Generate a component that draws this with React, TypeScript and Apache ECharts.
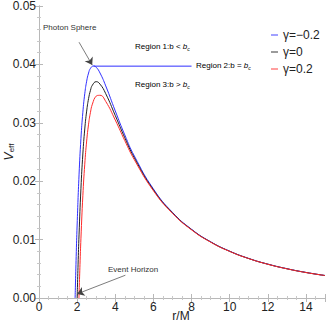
import React, { useEffect, useRef } from "react";
import * as echarts from "echarts";

// r/M values and effective potentials
const blueR = [1.894, 1.95, 2.0, 2.1, 2.2, 2.3, 2.4, 2.5, 2.6, 2.7, 2.86, 3.0, 3.2, 3.5, 4, 4.5, 5, 6, 7, 8, 9, 10, 11, 12, 13, 14, 15];
const blueV = [0, 0.00709, 0.0125, 0.02108, 0.02732, 0.03181, 0.03497, 0.03712, 0.03852, 0.03932, 0.03973, 0.03951, 0.03853, 0.03632, 0.03203, 0.02792, 0.02432, 0.01867, 0.01466, 0.01177, 0.00963, 0.00802, 0.00677, 0.0058, 0.00502, 0.00438, 0.00385];
const blackR = [2.0, 2.05, 2.1, 2.2, 2.3, 2.4, 2.5, 2.6, 2.7, 2.8, 3.0, 3.2, 3.5, 4, 4.5, 5, 6, 7, 8, 9, 10, 11, 12, 13, 14, 15];
const blackV = [0, 0.0058, 0.0108, 0.01878, 0.02466, 0.02894, 0.032, 0.03414, 0.03556, 0.03644, 0.03704, 0.03662, 0.03499, 0.03125, 0.02743, 0.024, 0.01852, 0.01458, 0.01172, 0.0096, 0.008, 0.00676, 0.00579, 0.00501, 0.00437, 0.00385];
const redR = [2.095, 2.15, 2.2, 2.3, 2.4, 2.5, 2.6, 2.7, 2.8, 3.0, 3.13, 3.2, 3.5, 4, 4.5, 5, 6, 7, 8, 9, 10, 11, 12, 13, 14, 15];
const redV = [0, 0.00572, 0.01024, 0.01751, 0.02291, 0.02688, 0.02976, 0.0318, 0.03319, 0.03457, 0.0347, 0.03471, 0.03366, 0.03047, 0.02694, 0.02368, 0.01837, 0.0145, 0.01167, 0.00957, 0.00798, 0.00675, 0.00578, 0.005, 0.00436, 0.00385];
const criticalLineR = [2.86, 8];
const criticalLineV = [0.0397, 0.0397];
const seriesNames = ["γ=−0.2", "γ=0", "γ=0.2"];
const seriesColors = ["#2f2fff", "#222222", "#ff2a2a"];
const photonArrow = [[2.1, 0.0438], [2.79, 0.0399]];
const horizonArrow = [[4.53, 0.0039], [2.0, 0.0007]];

const zip = (a: number[], b: number[]) => a.map((x, i) => [x, b[i]]);

export default function App() {
  const ref = useRef<HTMLDivElement>(null);
  useEffect(() => {
    if (!ref.current) return;
    const chart = echarts.init(ref.current, null, { renderer: "svg" });
    const font = "Liberation Sans, Arial, sans-serif";
    const axisCommon = {
      axisLine: { show: true, lineStyle: { color: "#b8b8b8", width: 1 } },
      axisTick: { show: true, inside: true, length: 4, lineStyle: { color: "#b8b8b8" } },
      minorTick: { show: true, length: 2, lineStyle: { color: "#c8c8c8" } },
      splitLine: { show: false },
    };
    const regionRich = {
      a: { fontSize: 8, color: "#333", fontFamily: font },
      i: { fontSize: 8, color: "#333", fontStyle: "italic", fontFamily: font },
      s: { fontSize: 5, color: "#333", fontStyle: "italic", fontFamily: font, padding: [4, 0, 0, 0] },
    };
    chart.setOption({
      animation: false,
      grid: { left: 39, right: 2, top: 6, bottom: 29, containLabel: false, outerBoundsMode: "none" },
      legend: {
        orient: "vertical",
        left: 266,
        top: 24,
        itemGap: 5,
        itemWidth: 7,
        itemHeight: 2,
        icon: "rect",
        data: seriesNames,
        textStyle: { fontSize: 12, color: "#222", fontFamily: font },
        itemStyle: { opacity: 0.45 },
      },
      xAxis: [
        {
          type: "value",
          min: 0,
          max: 15,
          interval: 2,
          axisLabel: { fontSize: 12, color: "#222", fontFamily: font, margin: 3, showMaxLabel: false },
          minorTick: { ...axisCommon.minorTick, splitNumber: 4 },
          axisLine: axisCommon.axisLine,
          axisTick: axisCommon.axisTick,
          splitLine: { show: false },
        },
        {
          type: "value",
          position: "top",
          min: 0,
          max: 15,
          interval: 2,
          axisLabel: { show: false },
          minorTick: { ...axisCommon.minorTick, splitNumber: 4 },
          axisLine: axisCommon.axisLine,
          axisTick: axisCommon.axisTick,
          splitLine: { show: false },
        },
      ],
      yAxis: [
        {
          type: "value",
          min: 0,
          max: 0.05,
          interval: 0.01,
          axisLabel: {
            fontSize: 12,
            color: "#222",
            fontFamily: font,
            margin: 3,
            formatter: (v: number) => v.toFixed(2),
          },
          minorTick: { ...axisCommon.minorTick, splitNumber: 5 },
          axisLine: axisCommon.axisLine,
          axisTick: axisCommon.axisTick,
          splitLine: { show: false },
        },
        {
          type: "value",
          position: "right",
          min: 0,
          max: 0.05,
          interval: 0.01,
          axisLabel: { show: false },
          minorTick: { ...axisCommon.minorTick, splitNumber: 5 },
          axisLine: axisCommon.axisLine,
          axisTick: axisCommon.axisTick,
          splitLine: { show: false },
        },
      ],
      series: [
        {
          name: seriesNames[0],
          type: "line",
          data: zip(blueR, blueV),
          smooth: true,
          showSymbol: false,
          color: seriesColors[0],
          lineStyle: { width: 1, color: seriesColors[0] },
        },
        {
          name: seriesNames[1],
          type: "line",
          data: zip(blackR, blackV),
          smooth: true,
          showSymbol: false,
          color: seriesColors[1],
          lineStyle: { width: 1, color: seriesColors[1] },
        },
        {
          name: seriesNames[2],
          type: "line",
          data: zip(redR, redV),
          smooth: true,
          showSymbol: false,
          color: seriesColors[2],
          lineStyle: { width: 1, color: seriesColors[2] },
        },
        {
          name: "critical",
          type: "line",
          data: zip(criticalLineR, criticalLineV),
          showSymbol: false,
          lineStyle: { width: 1, color: seriesColors[0] },
          markLine: {
            silent: true,
            symbolSize: 7,
            lineStyle: { color: "#444", width: 0.7, type: "solid" },
            label: { show: false },
            data: [
              [
                { coord: photonArrow[0], symbol: "none" },
                { coord: photonArrow[1], symbol: "arrow" },
              ],
              [
                { coord: horizonArrow[0], symbol: "none" },
                { coord: horizonArrow[1], symbol: "arrow" },
              ],
            ],
          },
        },
      ],
      graphic: [
        {
          type: "text",
          x: 9,
          y: 152,
          rotation: Math.PI / 2,
          style: {
            text: "{v|V}{s|eff}",
            align: "center",
            verticalAlign: "middle",
            rich: {
              v: { fontSize: 12, fill: "#222", fontStyle: "italic", fontFamily: font },
              s: { fontSize: 8, fill: "#222", fontFamily: font, padding: [5, 0, 0, 0] },
            },
          },
        },
        {
          type: "text",
          x: 181,
          y: 316,
          style: { text: "r/M", fontSize: 12, fill: "#222", fontFamily: font, align: "center", verticalAlign: "middle" },
        },
        { type: "text", x: 43, y: 23, style: { text: "Photon Sphere", fontSize: 8, fill: "#333", fontFamily: font } },
        { type: "text", x: 108, y: 265, style: { text: "Event Horizon", fontSize: 8, fill: "#333", fontFamily: font } },
        { type: "text", x: 135, y: 42, style: { text: "{a|Region 1:b < }{i|b}{s|c}", rich: regionRich } },
        { type: "text", x: 196, y: 61, style: { text: "{a|Region 2:b = }{i|b}{s|c}", rich: regionRich } },
        { type: "text", x: 135, y: 80, style: { text: "{a|Region 3:b > }{i|b}{s|c}", rich: regionRich } },
      ],
    });
    return () => chart.dispose();
  }, []);
  return <div ref={ref} style={{ width: 327, height: 327, position: "absolute", left: 0, top: 0 }} />;
}
